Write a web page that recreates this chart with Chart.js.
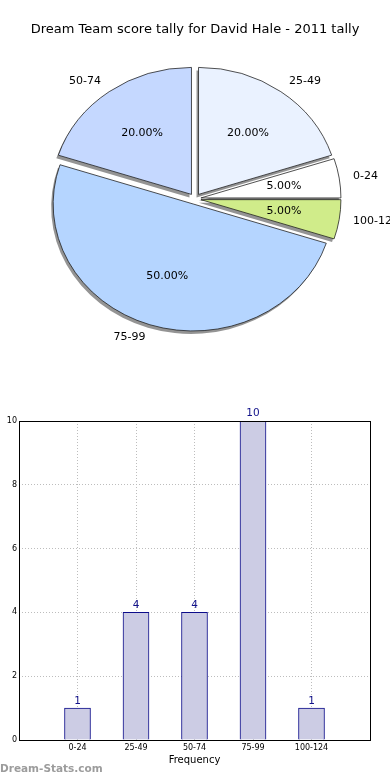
<!DOCTYPE html>
<html>
<head>
<meta charset="utf-8">
<script src="https://cdn.jsdelivr.net/npm/chart.js@4/dist/chart.umd.min.js"></script>
<style>
  html, body { margin: 0; padding: 0; background: #fff; }
  #wrap { position: relative; width: 390px; height: 780px; overflow: hidden; }
  #pieBox { position: absolute; left: 0; top: 0; width: 390px; height: 370px; }
  #barBox { position: absolute; left: 0; top: 400px; width: 390px; height: 380px; }
  #mark { position: absolute; left: 0; top: 762px; font: bold 10.5px "DejaVu Sans"; color: #9c9c9c; }
</style>
</head>
<body>
<div id="wrap">
  <div id="pieBox"><canvas id="pie"></canvas></div>
  <div id="barBox"><canvas id="bar"></canvas></div>
  <div id="mark">Dream-Stats.com</div>
</div>
<script>
// data
const chartTitle = 'Dream Team score tally for David Hale - 2011 tally';
const categories = ['0-24', '25-49', '50-74', '75-99', '100-124'];
const counts = [1, 4, 4, 10, 1];
const yTicks = [0, 2, 4, 6, 8, 10];
const xTitle = 'Frequency';

// styles
const pieColors = ['#ffffff', '#eaf2ff', '#c5d8ff', '#b5d5ff', '#d0ec8a'];
const font = 'DejaVu Sans';
const R = 140;          // pie radius (x)
const squashY = 0.907;  // pie is slightly elliptical
const explode = 6;
const shadowColor = 'rgba(60,60,60,0.55)';

// matplotlib goes counter-clockwise from 3 o'clock, chart.js clockwise -> reverse
const pieLabels = categories.slice().reverse();
const pieData = counts.slice().reverse();
const pieBg = pieColors.slice().reverse();
const total = counts.reduce((a, b) => a + b, 0);

const piePlugin = {
    id: 'pieLook',
    afterDatasetsUpdate(chart) {
        // move every wedge out along its middle angle (explode)
        chart.getDatasetMeta(0).data.forEach(el => {
            const mid = (el.startAngle + el.endAngle) / 2;
            el.x += Math.cos(mid) * explode;
            el.y += Math.sin(mid) * explode;
        });
    },
    beforeDatasetsDraw(chart) {
        const ctx = chart.ctx;
        const a = chart.chartArea;
        const cx = (a.left + a.right) / 2, cy = (a.top + a.bottom) / 2;
        // shadow pass: every wedge in grey, shifted left/down, under all wedges
        ctx.save();
        ctx.translate(-2, 3);
        ctx.translate(cx, cy);
        ctx.scale(1, squashY);
        ctx.translate(-cx, -cy);
        chart.getDatasetMeta(0).data.forEach(el => {
            const o = el.options;
            el.options = Object.assign({}, o, { backgroundColor: shadowColor, borderColor: shadowColor, borderWidth: 0 });
            el.draw(ctx);
            el.options = o;
        });
        ctx.restore();
        ctx.save();
        ctx.translate(cx, cy);
        ctx.scale(1, squashY);
        ctx.translate(-cx, -cy);
    },
    afterDatasetsDraw(chart) {
        chart.ctx.restore();
    },
    afterDraw(chart) {
        const ctx = chart.ctx;
        const a = chart.chartArea;
        const cy = (a.top + a.bottom) / 2;
        ctx.save();
        ctx.fillStyle = '#000';
        ctx.font = '11px "' + font + '"';
        ctx.textBaseline = 'middle';
        chart.getDatasetMeta(0).data.forEach((el, i) => {
            const mid = (el.startAngle + el.endAngle) / 2;
            const c = Math.cos(mid), s = Math.sin(mid);
            // percentage inside
            const pct = (pieData[i] / total * 100).toFixed(2) + '%';
            ctx.textAlign = 'center';
            ctx.fillText(pct, el.x + c * 0.6 * R, cy + (el.y + s * 0.6 * R - cy) * squashY);
            // category label outside
            ctx.textAlign = c > 0 ? 'left' : 'right';
            ctx.fillText(pieLabels[i], el.x + c * 1.1 * R, cy + (el.y + s * 1.1 * R - cy) * squashY);
        });
        ctx.restore();
    }
};

new Chart(document.getElementById('pie'), {
    type: 'pie',
    data: {
        labels: pieLabels,
        datasets: [{
            data: pieData,
            backgroundColor: pieBg,
            borderColor: '#1a1a1a',
            borderWidth: 0.8
        }]
    },
    options: {
        responsive: true,
        maintainAspectRatio: false,
        animation: false,
        events: [],
        rotation: 90,
        radius: R,
        layout: { padding: { left: 10, right: 10, top: 0, bottom: 22 } },
        plugins: {
            legend: { display: false },
            tooltip: { enabled: false },
            title: {
                display: true,
                text: chartTitle,
                color: '#000',
                font: { family: font, size: 13, weight: 'normal' },
                padding: { top: 22, bottom: 12 }
            }
        }
    },
    plugins: [piePlugin]
});

const barPlugin = {
    id: 'barLook',
    afterDatasetsDraw(chart) {
        const ctx = chart.ctx;
        const values = chart.data.datasets[0].data;
        ctx.save();
        ctx.fillStyle = '#12128a';
        ctx.font = '10.5px "' + font + '"';
        ctx.textAlign = 'center';
        ctx.textBaseline = 'bottom';
        chart.getDatasetMeta(0).data.forEach((el, i) => {
            if (values[i] == null) return;
            ctx.fillText(String(values[i]), el.x, el.y - 2);
        });
        ctx.restore();
    },
    afterDraw(chart) {
        const a = chart.chartArea;
        const ctx = chart.ctx;
        ctx.save();
        ctx.strokeStyle = '#000';
        ctx.lineWidth = 1;
        ctx.strokeRect(Math.round(a.left) + 0.5, Math.round(a.top) + 0.5,
            Math.round(a.right - a.left), Math.round(a.bottom - a.top));
        ctx.restore();
    }
};

new Chart(document.getElementById('bar'), {
    type: 'bar',
    data: {
        labels: ['', ...categories, ''],
        datasets: [{
            data: [null, ...counts, null],
            backgroundColor: '#ccccE4',
            borderColor: '#0c0c8a',
            borderWidth: 1,
            barThickness: 26
        }]
    },
    options: {
        responsive: true,
        maintainAspectRatio: false,
        animation: false,
        events: [],
        layout: { padding: { top: 21, right: 20, left: 0, bottom: 0 } },
        plugins: { legend: { display: false }, tooltip: { enabled: false } },
        scales: {
            x: {
                offset: false,
                z: 1,
                grid: { color: '#bdbdbd', drawTicks: false, offset: false },
                border: { display: false, dash: [1, 2] },
                ticks: {
                    color: '#000', padding: 3, maxRotation: 0, autoSkip: false,
                    font: { family: font, size: 8 }
                },
                title: {
                    display: true, text: xTitle, color: '#000',
                    font: { family: font, size: 10 },
                    padding: { top: 0, bottom: 14 }
                },
                afterFit(scale) { scale.height = 40; }
            },
            y: {
                min: 0,
                max: 10,
                z: 1,
                grid: { color: '#bdbdbd', drawTicks: false },
                border: { display: false, dash: [1, 2] },
                ticks: { color: '#000', padding: 2, font: { family: font, size: 8 } },
                afterBuildTicks(scale) { scale.ticks = yTicks.map(v => ({ value: v })); },
                afterFit(scale) { scale.width = 19; }
            }
        }
    },
    plugins: [barPlugin]
});
</script>
</body>
</html>
